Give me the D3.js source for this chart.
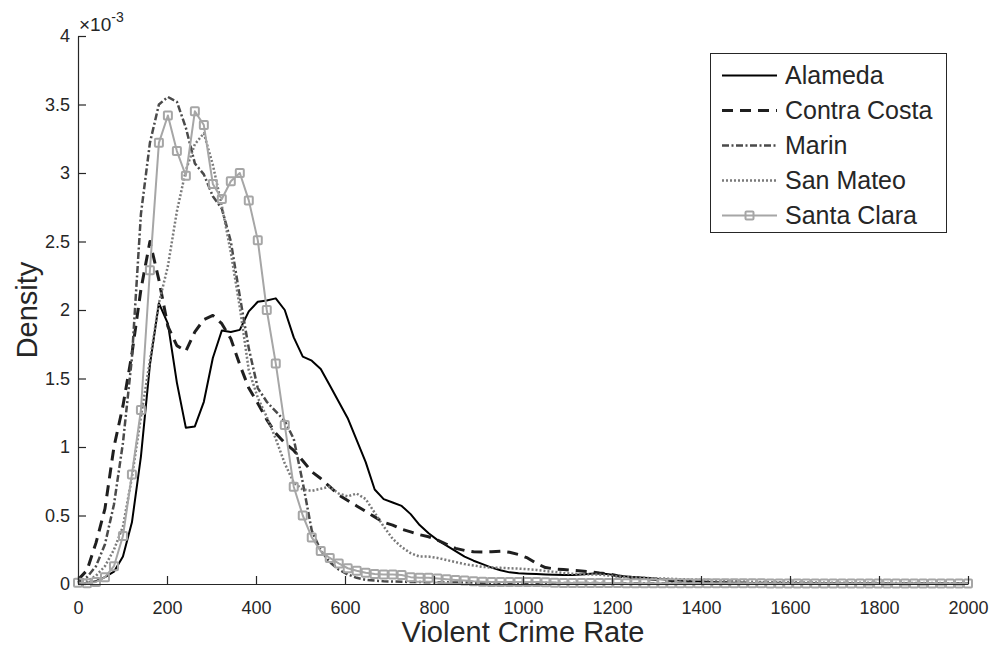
<!DOCTYPE html>
<html>
<head>
<meta charset="utf-8">
<script src="https://cdn.jsdelivr.net/npm/d3@7"></script>
<style>
  body { margin: 0; background: #fff; }
  text { font-family: "Liberation Sans", Arial, Helvetica, sans-serif; fill: #262626; }
</style>
</head>
<body>
<script>
// evaluation grid of the density estimates (violent crime rate)
var rates = [0,20.2,40.4,60.6,80.8,101,121.2,141.4,161.6,181.8,
  202,222.2,242.4,262.6,282.8,303,323.2,343.4,363.6,383.8,
  404,424.2,444.4,464.6,484.8,505.1,525.3,545.5,565.7,585.9,
  606.1,626.3,646.5,666.7,686.9,707.1,727.3,747.5,767.7,787.9,
  808.1,828.3,848.5,868.7,888.9,909.1,929.3,949.5,969.7,989.9,
  1010.1,1030.3,1050.5,1070.7,1090.9,1111.1,1131.3,1151.5,1171.7,1191.9,
  1212.1,1232.3,1252.5,1272.7,1292.9,1313.1,1333.3,1353.5,1373.7,1393.9,
  1414.1,1434.3,1454.5,1474.7,1494.9,1515.2,1535.4,1555.6,1575.8,1596,
  1616.2,1636.4,1656.6,1676.8,1697,1717.2,1737.4,1757.6,1777.8,1798,
  1818.2,1838.4,1858.6,1878.8,1899,1919.2,1939.4,1959.6,1979.8,2000];

// densities, in units of 1e-3
var alameda = [0.003,0.008,0.02,0.05,0.09,0.2,0.45,0.93,1.6,2.05,
  1.9,1.47,1.14,1.15,1.33,1.65,1.85,1.84,1.855,1.99,
  2.06,2.07,2.085,2.0,1.8,1.66,1.63,1.57,1.45,1.33,
  1.21,1.05,0.89,0.69,0.62,0.595,0.57,0.51,0.43,0.37,
  0.32,0.28,0.24,0.2,0.17,0.145,0.12,0.1,0.085,0.078,
  0.075,0.073,0.07,0.068,0.066,0.066,0.07,0.075,0.078,0.072,
  0.06,0.055,0.05,0.045,0.04,0.035,0.03,0.025,0.02,0.018,
  0.015,0.012,0.01,0.009,0.008,0.007,0.006,0.006,0.005,0.005,
  0.005,0.004,0.004,0.004,0.003,0.003,0.003,0.003,0.002,0.002,
  0.002,0.002,0.002,0.002,0.001,0.001,0.001,0.001,0.001,0.001];

var contraCosta = [0.03,0.1,0.3,0.55,1.0,1.3,1.68,2.15,2.5,2.22,
  1.88,1.74,1.7,1.84,1.93,1.96,1.9,1.79,1.6,1.43,
  1.32,1.2,1.1,1.03,0.975,0.9,0.82,0.77,0.71,0.65,
  0.61,0.57,0.53,0.49,0.45,0.43,0.4,0.38,0.36,0.345,
  0.32,0.29,0.26,0.245,0.235,0.234,0.236,0.24,0.232,0.215,
  0.19,0.15,0.12,0.11,0.105,0.1,0.095,0.09,0.08,0.075,
  0.06,0.05,0.045,0.04,0.035,0.03,0.025,0.02,0.018,0.015,
  0.012,0.01,0.009,0.008,0.007,0.006,0.006,0.005,0.005,0.005,
  0.004,0.004,0.004,0.003,0.003,0.003,0.003,0.003,0.002,0.002,
  0.002,0.002,0.002,0.002,0.002,0.001,0.001,0.001,0.001,0.001];

var marin = [0.01,0.05,0.13,0.29,0.58,1.03,1.65,2.7,3.22,3.5,
  3.555,3.52,3.33,3.07,2.99,2.83,2.74,2.5,2.1,1.72,
  1.43,1.33,1.26,1.19,1.06,0.74,0.39,0.245,0.16,0.105,
  0.07,0.045,0.03,0.025,0.02,0.018,0.016,0.015,0.014,0.013,
  0.012,0.012,0.011,0.011,0.01,0.01,0.01,0.009,0.009,0.009,
  0.008,0.008,0.008,0.008,0.007,0.007,0.007,0.007,0.007,0.006,
  0.006,0.006,0.006,0.006,0.005,0.005,0.005,0.005,0.005,0.005,
  0.004,0.004,0.004,0.004,0.004,0.004,0.004,0.004,0.004,0.004,
  0.003,0.003,0.003,0.003,0.003,0.003,0.003,0.003,0.003,0.003,
  0.002,0.002,0.002,0.002,0.002,0.002,0.002,0.002,0.002,0.002];

var sanMateo = [0.005,0.02,0.06,0.13,0.25,0.42,0.78,1.22,1.63,2.05,
  2.32,2.72,3.02,3.21,3.29,3.06,2.76,2.42,2.02,1.56,
  1.36,1.22,1.06,0.88,0.74,0.69,0.68,0.695,0.71,0.66,
  0.64,0.66,0.62,0.52,0.42,0.33,0.27,0.225,0.2,0.2,
  0.19,0.175,0.16,0.145,0.135,0.125,0.12,0.118,0.115,0.112,
  0.108,0.103,0.095,0.088,0.08,0.075,0.072,0.07,0.068,0.062,
  0.055,0.05,0.047,0.045,0.042,0.04,0.038,0.035,0.033,0.032,
  0.03,0.027,0.024,0.02,0.018,0.016,0.015,0.014,0.013,0.012,
  0.012,0.011,0.011,0.01,0.01,0.01,0.009,0.009,0.009,0.008,
  0.008,0.008,0.008,0.007,0.007,0.007,0.007,0.006,0.006,0.006];

var santaClara = [0.01,0.005,0.015,0.05,0.13,0.35,0.8,1.27,2.29,3.22,
  3.42,3.16,2.98,3.45,3.35,2.92,2.81,2.94,3.0,2.8,
  2.51,2.0,1.61,1.16,0.71,0.5,0.34,0.24,0.19,0.15,
  0.115,0.097,0.082,0.073,0.07,0.07,0.065,0.05,0.045,0.045,
  0.04,0.035,0.03,0.025,0.02,0.017,0.015,0.015,0.015,0.015,
  0.015,0.015,0.012,0.01,0.008,0.008,0.008,0.008,0.007,0.007,
  0.007,0.006,0.006,0.006,0.006,0.005,0.005,0.005,0.005,0.005,
  0.005,0.005,0.005,0.005,0.005,0.005,0.005,0.004,0.004,0.004,
  0.004,0.004,0.004,0.004,0.004,0.004,0.004,0.003,0.003,0.003,
  0.003,0.003,0.003,0.003,0.003,0.003,0.003,0.003,0.003,0.003];

var counties = ['Alameda', 'Contra Costa', 'Marin', 'San Mateo', 'Santa Clara'];
var xTicks = [0, 200, 400, 600, 800, 1000, 1200, 1400, 1600, 1800, 2000];
var yTicks = [0, 0.5, 1, 1.5, 2, 2.5, 3, 3.5, 4];

var series = [
  { name: counties[0], values: alameda,     color: '#000000', width: 2,   dash: null },
  { name: counties[1], values: contraCosta, color: '#1f1f1f', width: 3,   dash: '11,7' },
  { name: counties[2], values: marin,       color: '#4a4a4a', width: 2.5, dash: '7,2.5,2,2.5' },
  { name: counties[3], values: sanMateo,    color: '#7a7a7a', width: 2.5, dash: '2,2' },
  { name: counties[4], values: santaClara,  color: '#a6a6a6', width: 2,   dash: null, marker: true }
];

var W = 989, H = 647;
var margin = {top: 36, right: 21, bottom: 63, left: 78};

var svg = d3.select('body').append('svg')
  .attr('width', W)
  .attr('height', H);

var x = d3.scaleLinear().domain([0, 2000]).range([margin.left, W - margin.right]);
var y = d3.scaleLinear().domain([0, 4]).range([H - margin.bottom, margin.top]);

var line = d3.line()
  .x(function(d) { return x(d[0]); })
  .y(function(d) { return y(d[1]); });

// curves
series.forEach(function(s) {
  var pts = rates.map(function(r, i) { return [r, s.values[i]]; });
  svg.append('path')
    .datum(pts)
    .attr('fill', 'none')
    .attr('stroke', s.color)
    .attr('stroke-width', s.width)
    .attr('stroke-dasharray', s.dash)
    .attr('stroke-linejoin', 'round')
    .attr('d', line);
  if (s.marker) {
    svg.append('g').selectAll('rect')
      .data(pts)
      .enter().append('rect')
      .attr('x', function(d) { return x(d[0]) - 4; })
      .attr('y', function(d) { return y(d[1]) - 4; })
      .attr('width', 8)
      .attr('height', 8)
      .attr('rx', 1)
      .attr('fill', 'none')
      .attr('stroke', s.color)
      .attr('stroke-width', 2);
  }
});

// axes (ticks point inward)
var xAxis = svg.append('g')
  .attr('transform', 'translate(0,' + y(0) + ')')
  .call(d3.axisBottom(x).tickValues(xTicks).tickSizeInner(-8).tickSizeOuter(0).tickPadding(17)
    .tickFormat(d3.format('d')));
var yAxis = svg.append('g')
  .attr('transform', 'translate(' + x(0) + ',0)')
  .call(d3.axisLeft(y).tickValues(yTicks).tickSizeInner(-8).tickSizeOuter(0).tickPadding(8)
    .tickFormat(function(d) { return String(d); }));

[xAxis, yAxis].forEach(function(a) {
  a.select('.domain').attr('stroke', '#262626').attr('stroke-width', 1.2);
  a.selectAll('.tick line').attr('stroke', '#262626').attr('stroke-width', 1.2);
  a.selectAll('.tick text').attr('font-size', 18).attr('fill', '#262626')
    .attr('font-family', '"Liberation Sans", Arial, Helvetica, sans-serif');
});

// exponent label
var expo = svg.append('text')
  .attr('x', x(0) + 1)
  .attr('y', 31)
  .attr('font-size', 19);
expo.append('tspan').attr('font-size', 19).text('\u00d7');
expo.append('tspan').text('10');
expo.append('tspan').attr('font-size', 14).attr('dy', -9).text('-3');

// axis titles
svg.append('text')
  .attr('x', (x(0) + x(2000)) / 2)
  .attr('y', 642)
  .attr('text-anchor', 'middle')
  .attr('font-size', 29)
  .text('Violent Crime Rate');

svg.append('text')
  .attr('transform', 'translate(37,' + ((y(0) + y(4)) / 2) + ') rotate(-90)')
  .attr('text-anchor', 'middle')
  .attr('font-size', 29)
  .text('Density');

// legend
var lg = svg.append('g');
lg.append('rect')
  .attr('x', 710.5).attr('y', 53.5)
  .attr('width', 236).attr('height', 179)
  .attr('fill', '#fff')
  .attr('stroke', '#262626')
  .attr('stroke-width', 1);

series.forEach(function(s, i) {
  var cy = 75.5 + i * 35;
  lg.append('line')
    .attr('x1', 722).attr('x2', 777)
    .attr('y1', cy).attr('y2', cy)
    .attr('stroke', s.color)
    .attr('stroke-width', s.width)
    .attr('stroke-dasharray', s.dash);
  if (s.marker) {
    lg.append('rect')
      .attr('x', 749.5 - 4).attr('y', cy - 4)
      .attr('width', 8).attr('height', 8).attr('rx', 1)
      .attr('fill', 'none')
      .attr('stroke', s.color)
      .attr('stroke-width', 2);
  }
  lg.append('text')
    .attr('x', 785)
    .attr('y', cy)
    .attr('dy', '0.35em')
    .attr('font-size', 25)
    .text(s.name);
});
</script>
</body>
</html>
